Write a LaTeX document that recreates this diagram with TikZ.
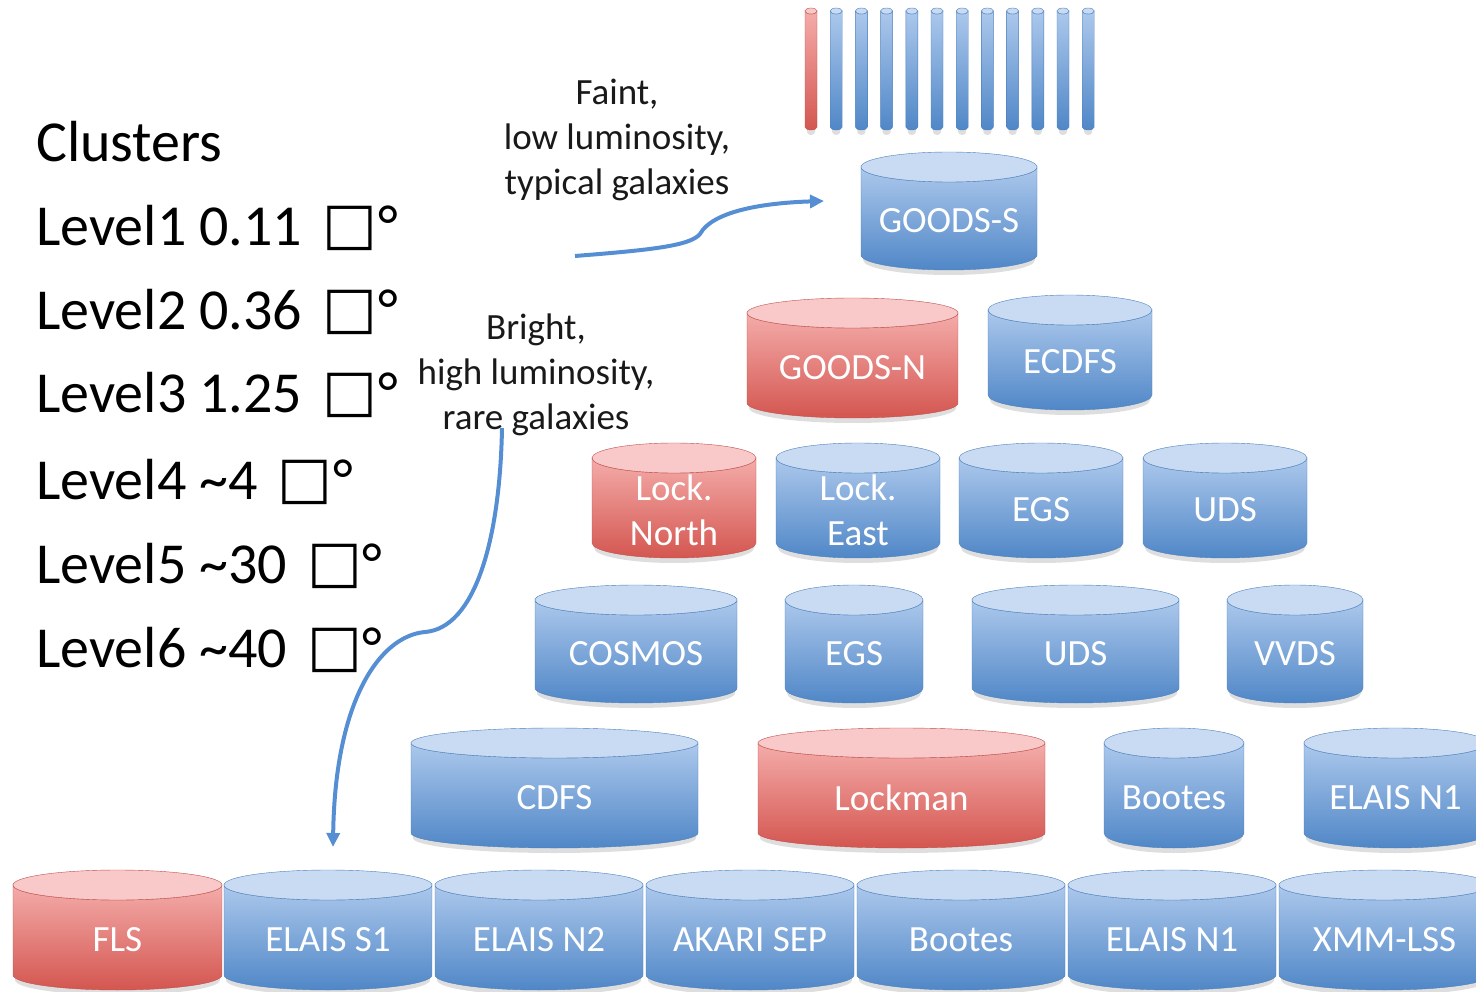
\documentclass[tikz,border=0pt]{standalone}
\usepackage{fontspec}
\setmainfont{Carlito}
\newfontfamily\symbfont{DejaVu Sans}
\usetikzlibrary{arrows.meta}

\definecolor{bluetop}{RGB}{172,200,236}
\definecolor{bluebot}{RGB}{80,135,199}
\definecolor{bluecap}{RGB}{200,219,242}
\definecolor{blueline}{RGB}{78,128,189}
\definecolor{redtop}{RGB}{244,172,170}
\definecolor{redbot}{RGB}{212,86,80}
\definecolor{redcap}{RGB}{248,201,200}
\definecolor{redline}{RGB}{192,80,77}
\definecolor{arrowblue}{RGB}{86,142,212}

\def\capry{15}
% survey cylinder: name, colour, left, right, top, bottom, label
\newcommand{\survey}[7]{%
  \pgfmathsetmacro{\rx}{((#4)-(#3))/2}
  \pgfmathsetmacro{\cx}{((#3)+(#4))/2}
  \pgfmathsetmacro{\yt}{(#5)+\capry}
  \pgfmathsetmacro{\yb}{(#6)-\capry}
  \fill[black, opacity=.13] ({(#3)+2},{\yt+5}) -- ({(#3)+2},{\yb+5})
    arc[start angle=180, end angle=360, x radius=\rx pt-2pt, y radius=\capry pt]
    -- ({(#4)-2},{\yt+5}) -- cycle;
  \path[draw=#2line, top color=#2top, bottom color=#2bot] (#3,\yt) -- (#3,\yb)
    arc[start angle=180, end angle=360, x radius=\rx pt, y radius=\capry pt]
    -- (#4,\yt)
    arc[start angle=0, end angle=-180, x radius=\rx pt, y radius=\capry pt] -- cycle;
  \draw[#2line, fill=#2cap] (\cx,\yt) ellipse[x radius=\rx pt, y radius=\capry pt];
  \node[surveylabel] (#1) at (\cx,{(\yt+(#6))/2+2}) {#7};
}
\newcommand{\sqdeg}{\hspace{20pt}\raisebox{2pt}{\symbfont □}\hspace{1pt}°}

\begin{document}
\begin{tikzpicture}[
    x = 1pt, y = -1pt, % image pixels, y pointing down
    > = {Triangle[length=14pt, width=13pt]},
    surveylabel/.style = {text=white, align=center, inner sep=0pt,
      font=\fontsize{37}{45}\selectfont},
    level/.style = {anchor=base west, inner sep=0pt,
      font=\fontsize{58}{60}\selectfont},
    note/.style = {align=center, inner sep=0pt, text=black!90,
      font=\fontsize{37}{45}\selectfont},
    flow/.style = {->, arrowblue, line width=4pt}
  ]

  \useasboundingbox (0,0) rectangle (1476,992);
  \clip (0,0) rectangle (1476,992);

  % deep pencil-beam fields
  \foreach \i in {0,...,11} {
    \pgfmathsetmacro{\bx}{811+25.2*\i}
    \ifnum\i=0 \def\tone{red}\else\def\tone{blue}\fi
    \def\capry{3}
    \survey{bar\i}{\tone}{\bx-6}{\bx+6}{8}{130}{}
  }

  % pyramid of survey fields
  \survey{goodss}{blue}{861}{1037}{152}{270}{GOODS-S}

  \survey{goodsn}{red}{747}{958}{298}{418}{GOODS-N}
  \survey{ecdfs}{blue}{988}{1152}{295}{410}{ECDFS}

  \survey{locknorth}{red}{592}{756}{443}{558}{Lock.\\North}
  \survey{lockeast}{blue}{776}{940}{443}{558}{Lock.\\East}
  \survey{egsa}{blue}{959}{1123}{443}{558}{EGS}
  \survey{udsa}{blue}{1143}{1307}{443}{558}{UDS}

  \survey{cosmos}{blue}{535}{737}{585}{703}{COSMOS}
  \survey{egsb}{blue}{785}{923}{585}{703}{EGS}
  \survey{udsb}{blue}{972}{1179}{585}{703}{UDS}
  \survey{vvds}{blue}{1227}{1363}{585}{703}{VVDS}

  \survey{cdfs}{blue}{411}{698}{728}{848}{CDFS}
  \survey{lockman}{red}{758}{1045}{728}{848}{Lockman}
  \survey{bootesa}{blue}{1104}{1244}{728}{848}{Bootes}
  \survey{elaisna}{blue}{1304}{1487}{728}{848}{ELAIS N1}

  \survey{fls}{red}{13}{222}{870}{990}{FLS}
  \survey{elaiss}{blue}{224}{432}{870}{990}{ELAIS S1}
  \survey{elaisn}{blue}{435}{643}{870}{990}{ELAIS N2}
  \survey{akari}{blue}{646}{854}{870}{990}{AKARI SEP}
  \survey{bootesb}{blue}{857}{1065}{870}{990}{Bootes}
  \survey{elaisnb}{blue}{1068}{1276}{870}{990}{ELAIS N1}
  \survey{xmm}{blue}{1279}{1490}{870}{990}{XMM-LSS}

  % cluster levels
  \node[level] (clusters) at (36,162) {Clusters};
  \node[level] (lvla) at (36,246) {Level1 0.11\sqdeg};
  \node[level] (lvlb) at (36,330) {Level2 0.36\sqdeg};
  \node[level] (lvlc) at (36,413) {Level3 1.25\sqdeg};
  \node[level] (lvld) at (36,499) {Level4 \char`~4\sqdeg};
  \node[level] (lvle) at (36,583) {Level5 \char`~30\sqdeg};
  \node[level] (lvlf) at (36,667) {Level6 \char`~40\sqdeg};

  % notes and arrows
  \node[note] (faint) at (617,140) {Faint,\\low luminosity,\\typical galaxies};
  \node[note] (bright) at (536,375) {Bright,\\high luminosity,\\rare galaxies};

  \coordinate (faint-tail) at (575,256);
  \coordinate (faint-head) at (824,201);
  \coordinate (bright-tail) at (502,428);
  \coordinate (bright-head) at (333,847);

  \draw[flow] (faint-tail) .. controls (650,250) and (690,246) .. (700,234)
    .. controls (712,212) and (760,203) .. (faint-head);
  \draw[flow] (bright-tail) .. controls (500,540) and (475,628) .. (425,632)
    .. controls (380,636) and (335,700) .. (bright-head);

\end{tikzpicture}
\end{document}
